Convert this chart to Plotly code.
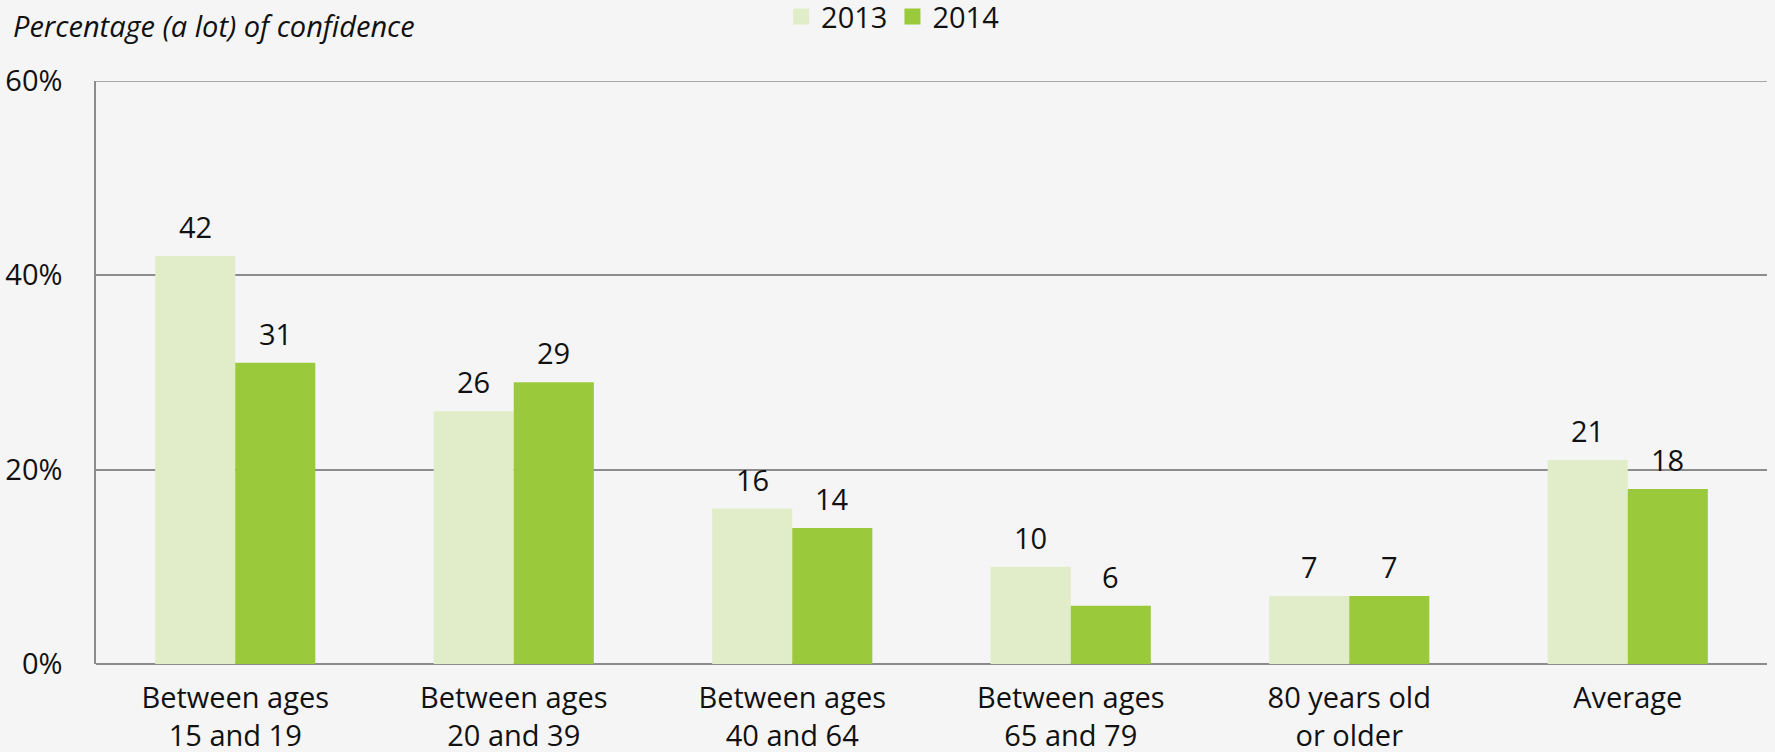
import plotly.graph_objects as go

categories = ["Between ages<br>15 and 19", "Between ages<br>20 and 39", "Between ages<br>40 and 64",
              "Between ages<br>65 and 79", "80 years old<br>or older", "Average"]
values_2013 = [42, 26, 16, 10, 7, 21]
values_2014 = [31, 29, 14, 6, 7, 18]
series_names = ["2013", "2014"]
y_ticks = [0, 20, 40, 60]
y_tick_labels = ["0%", "20%", "40%", "60%"]

FONT = "Open Sans"
C2013 = "#e1edc9"
C2014 = "#9bc93c"
BG = "#f5f5f5"
GRID = "#8c8c8c"
FS = 29

fig = go.Figure()
for name, vals, col in zip(series_names, (values_2013, values_2014), (C2013, C2014)):
    fig.add_trace(go.Bar(name=name, x=categories, y=vals, marker_color=col,
                         marker_line_width=0, showlegend=False))
    # legend swatch: square marker
    fig.add_trace(go.Scatter(name=name, x=[None], y=[None], mode="markers",
                             marker=dict(symbol="square", size=18, color=col)))

# value labels above each bar
half = 40
for vals, dx in ((values_2013, -half), (values_2014, half)):
    for c, v in zip(categories, vals):
        fig.add_annotation(x=c, y=v, text=str(v), showarrow=False, xshift=dx,
                           yanchor="bottom", yshift=8,
                           font=dict(family=FONT, size=FS, color="#111111"))

fig.add_annotation(xref="paper", yref="paper", x=-0.051, y=1.0, xanchor="left", yanchor="bottom",
                   yshift=34, text="<i>Percentage (a lot) of confidence</i>", showarrow=False,
                   font=dict(family=FONT, size=FS, color="#111111"))

# top gridline at 60%
fig.add_shape(type="line", xref="paper", yref="y", x0=0, x1=1, y0=60, y1=60,
              line=dict(color=GRID, width=1.5), layer="below")

fig.update_layout(
    width=1775, height=752,
    paper_bgcolor=BG, plot_bgcolor=BG,
    margin=dict(l=96, r=8, t=81, b=88, autoexpand=False),
    barmode="group", bargap=0.425, bargroupgap=0,
    font=dict(family=FONT, size=FS, color="#111111"),
    showlegend=True,
    legend=dict(orientation="h", x=0.41, xanchor="left", y=1.154, yanchor="top",
                yref="paper", bgcolor="rgba(0,0,0,0)", font=dict(size=FS),
                itemwidth=30, traceorder="normal"),
    xaxis=dict(showgrid=False, showline=False, ticks="", tickfont=dict(size=FS),
               ticklabelstandoff=14, automargin=False),
    yaxis=dict(range=[0, 60], tickvals=y_ticks, ticktext=y_tick_labels, showgrid=True,
               gridcolor=GRID, gridwidth=1.5, showline=True, linecolor=GRID, linewidth=1.5,
               zeroline=True, zerolinecolor=GRID, zerolinewidth=1.5, ticks="",
               ticklabelstandoff=26, tickfont=dict(size=FS), layer="below traces",
               automargin=False),
)

fig.write_html("out.html")
